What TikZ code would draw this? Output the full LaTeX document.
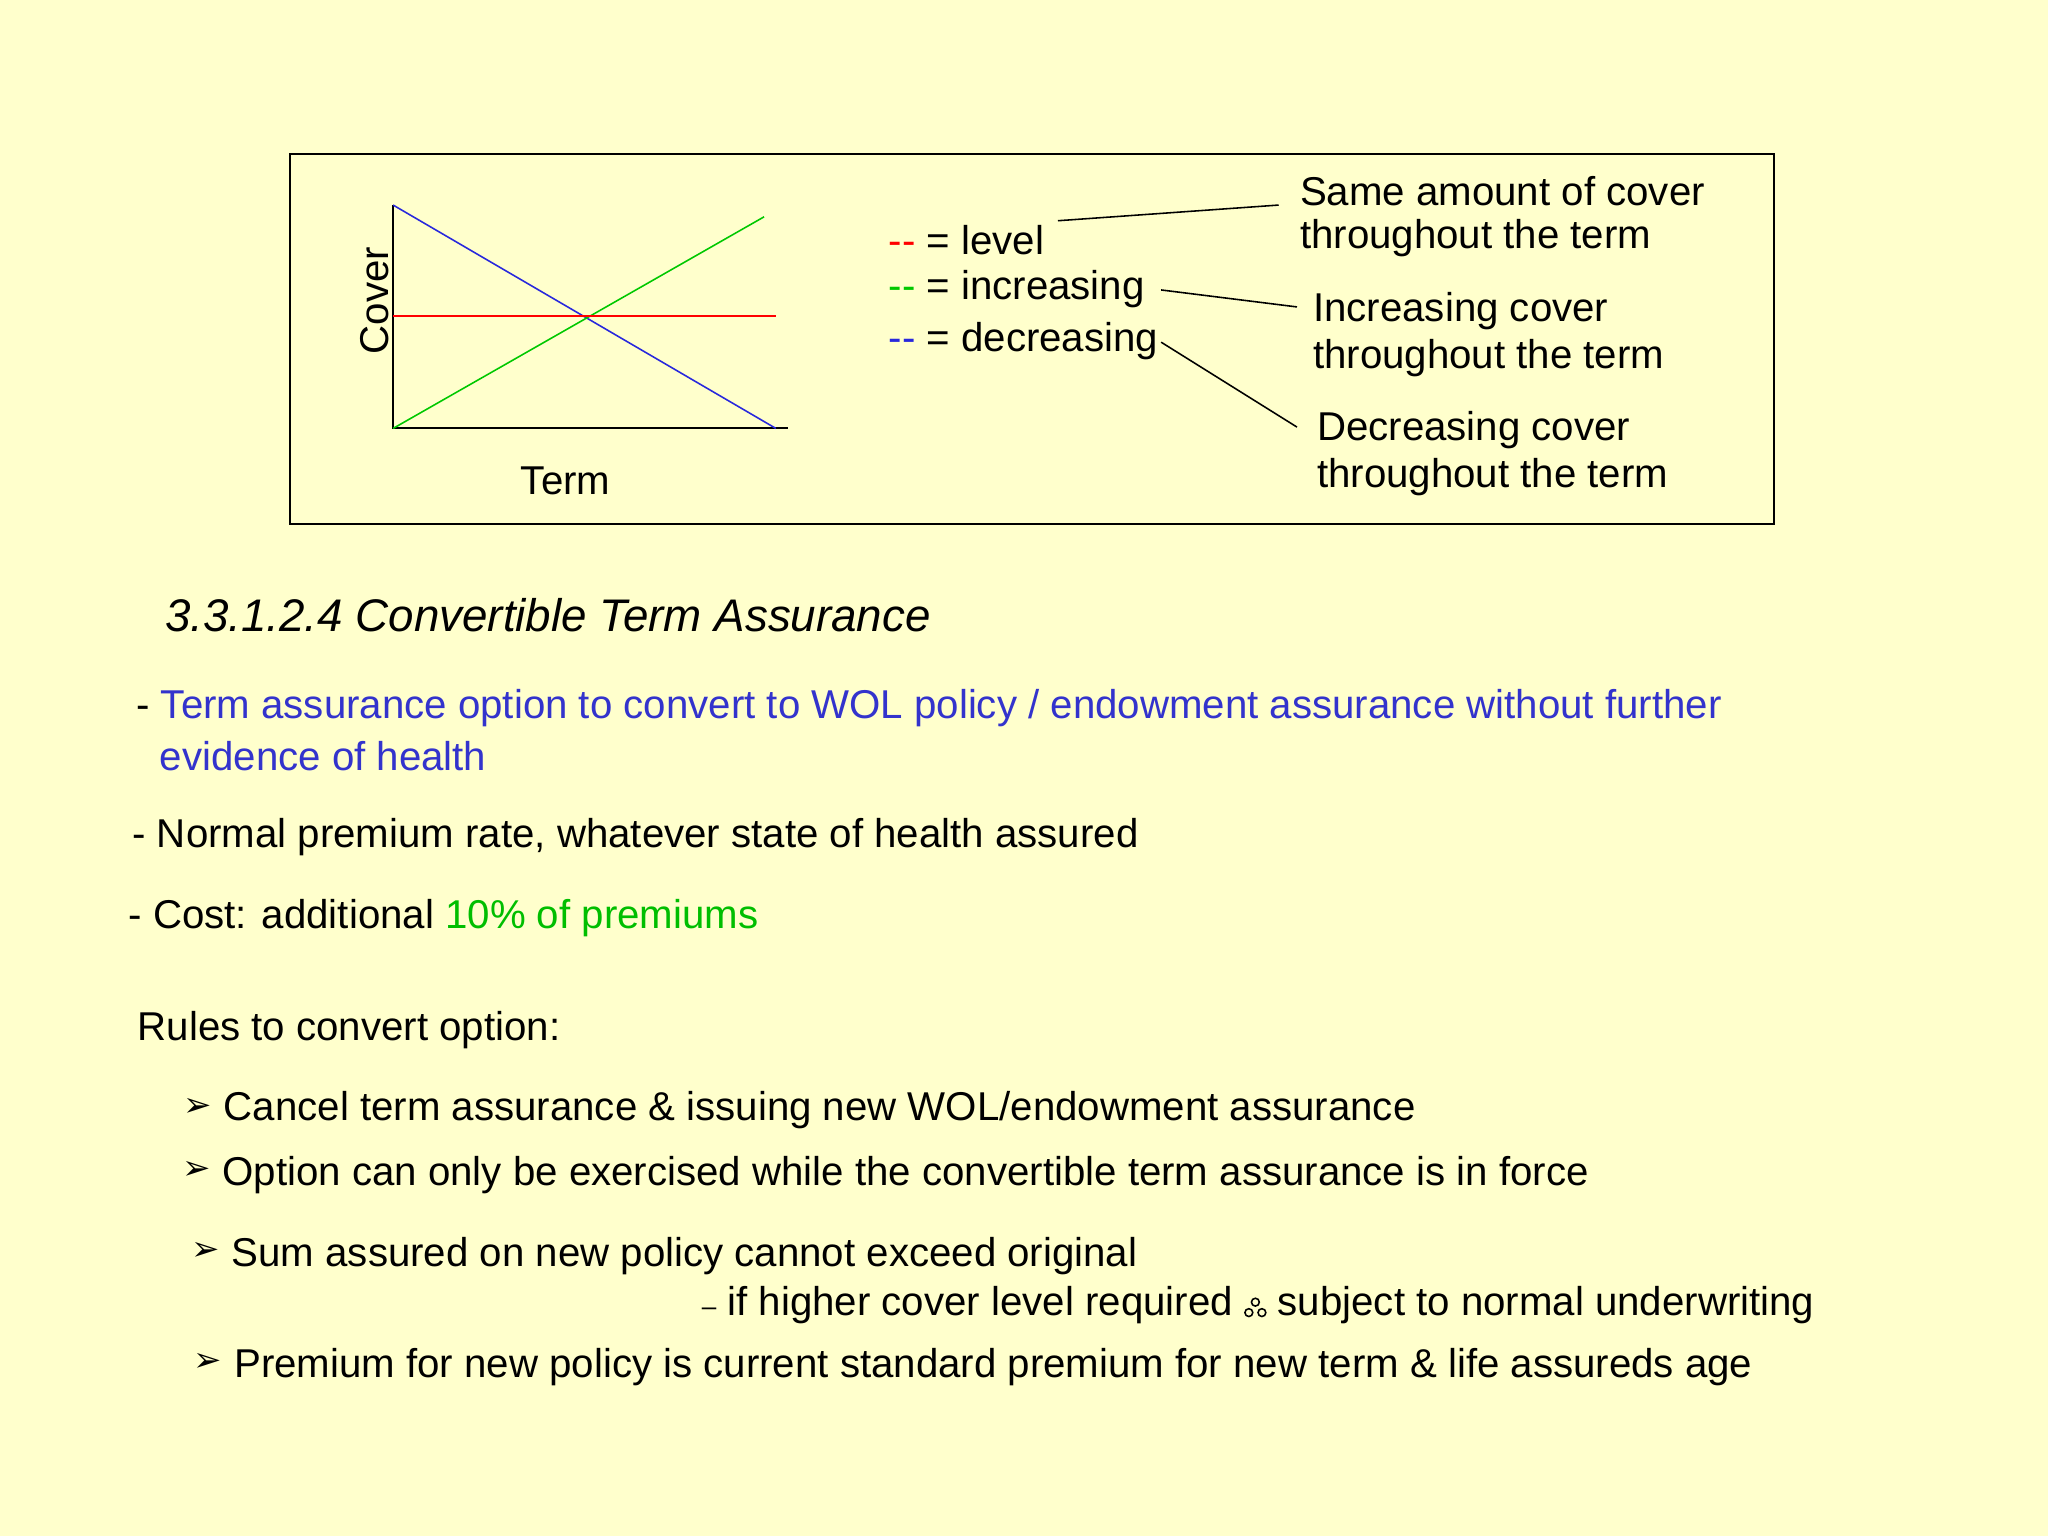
\documentclass[tikz,border=0pt]{standalone}
\usepackage{fontspec}
\setmainfont{Liberation Sans}
\newfontfamily\djvfont{DejaVu Sans}
\definecolor{bg}{RGB}{255,255,204}
\definecolor{tblue}{RGB}{51,51,204}
\definecolor{tgreen}{RGB}{0,190,0}
\definecolor{lred}{RGB}{255,0,0}
\definecolor{lgreen}{RGB}{0,200,0}
\definecolor{lblue}{RGB}{40,40,220}
\newcommand{\threecirc}{\tikz[baseline=0pt,x=0.5pt,y=0.5pt,line width=0.6pt]{\draw (5,10) circle (3) (0,2) circle (3) (10,2) circle (3);}}
\begin{document}
\begin{tikzpicture}[x=0.5pt,y=-0.5pt,
 txt/.style={anchor=west,inner sep=0,font=\fontsize{15.4}{18}\selectfont},
 arr/.style={anchor=west,inner sep=0,font=\djvfont\fontsize{13}{15}\selectfont}]
\fill[bg] (0,0) rectangle (1568,1176);
\useasboundingbox (0,0) rectangle (1568,1176);
\draw[line width=0.7pt] (222,118) rectangle (1358,401);
% chart
\coordinate (o) at (301,328);
\draw[line width=0.7pt] (301,157) -- (o) -- (603,328);
\draw[lblue,line width=0.6pt] (301,157) -- (594,328);
\draw[lgreen,line width=0.6pt] (o) -- (585,166);
\draw[lred,line width=0.6pt] (301,242) -- (594,242);
\node[txt,anchor=center,rotate=90] (cov) at (287,230) {Cover};
\node[txt,anchor=center] (term) at (433,368) {Term};
% legend
\node[txt] (lv) at (680,184) {\textcolor{lred}{-{}-} = level};
\node[txt] (inc) at (680,221) {\textcolor{lgreen}{-{}-} = increasing};
\node[txt] (dec) at (680,261) {\textcolor{lblue}{-{}-} = decreasing};
\node[txt] (s1) at (995,146) {Same amount of cover};
\node[txt] (s2) at (995,182) {throughout the term};
\node[txt] (i1) at (1005,238) {Increasing cover};
\node[txt] (i2) at (1005,274) {throughout the term};
\node[txt] (d1) at (1008,329) {Decreasing cover};
\node[txt] (d2) at (1008,365) {throughout the term};
\coordinate (a1) at (810,169); \coordinate (b1) at (979,157);
\coordinate (a2) at (889,222); \coordinate (b2) at (993,235);
\coordinate (a3) at (889,262); \coordinate (b3) at (993,327);
\draw[line width=0.6pt] (a1)--(b1) (a2)--(b2) (a3)--(b3);
% text
\node[txt,font=\itshape\fontsize{17.5}{21}\selectfont] (h) at (126,471) {3.3.1.2.4 Convertible Term Assurance};
\node[txt] (t1) at (104,542) {- \textcolor{tblue}{Term assurance option to convert to WOL policy / endowment assurance without further}};
\node[txt] (t1b) at (122,579) {\textcolor{tblue}{evidence of health}};
\node[txt] (t2) at (101,641) {- Normal premium rate, whatever state of health assured};
\node[txt] (t3) at (98,703) {- Cost: additional \textcolor{tgreen}{10\% of premiums}};
\node[txt] (r) at (105,789) {Rules to convert option:};
\node[arr] (k1) at (140,848) {➢}; \node[txt] (r1) at (171,850) {Cancel term assurance \& issuing new WOL/endowment assurance};
\node[arr] (k2) at (139,896) {➢}; \node[txt] (r2) at (170,900) {Option can only be exercised while the convertible term assurance is in force};
\node[arr] (k3) at (146,958) {➢}; \node[txt] (r3) at (177,962) {Sum assured on new policy cannot exceed original};
\node[txt] (r3b) at (537,999) {{\fontsize{10}{12}\selectfont –} if higher cover level required \threecirc{} subject to normal underwriting};
\node[arr] (k4) at (148,1043) {➢}; \node[txt] (r4) at (179,1047) {Premium for new policy is current standard premium for new term \& life assureds age};
\end{tikzpicture}
\end{document}
